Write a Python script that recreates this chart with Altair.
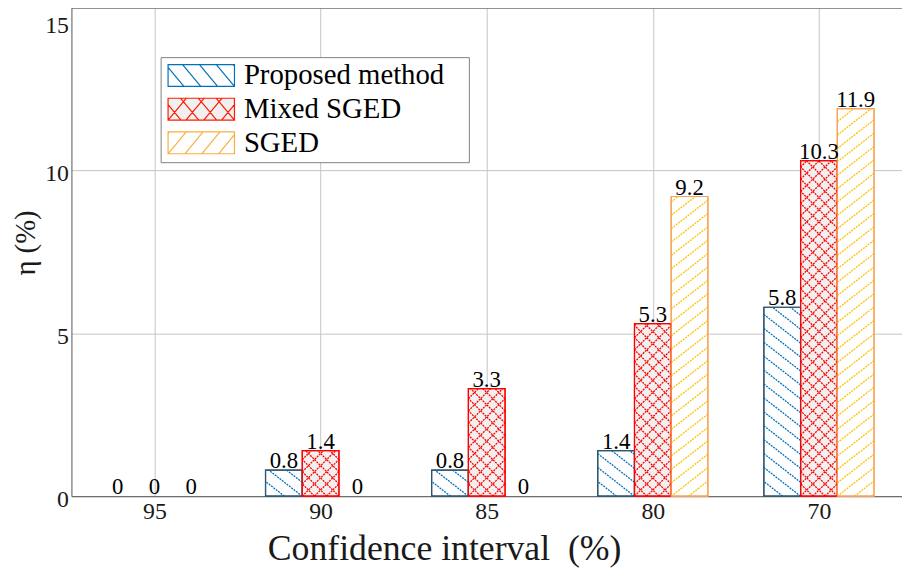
import math
import altair as alt
import pandas as pd

# ---------------- data ----------------
categories = ["95", "90", "85", "80", "70"]
series_names = ["Proposed method", "Mixed SGED", "SGED"]
proposed = [0, 0.8, 0.8, 1.4, 5.8]
mixed_sged = [0, 1.4, 3.3, 5.3, 10.3]
sged = [0, 0, 0, 9.2, 11.9]
y_ticks = [0, 5, 10, 15]

# ---------------- layout / style ----------------
FONT = "'Liberation Serif', 'Times New Roman', Times, serif"
W, H = 838, 493
XMIN, XMAX = 0.5, 5.5
YMAX = 15
SX = W / (XMAX - XMIN)
SY = H / YMAX
OFFS = [-0.221, 0.0, 0.221]
HW = 0.1105

style = {
    "Proposed method": dict(fill="white", edge="#2B5570", hatch="#0072BD", k=0.78, gap=18.0, dirs=[-1],
                            lfill="white", lstroke="#0072BD", lk=1.2, lgap=17.0),
    "Mixed SGED": dict(fill="#F0F0F0", edge="#FF0000", hatch="#FF0000", k=1.0, gap=12.3, dirs=[1, -1],
                       lfill="#F0F0F0", lstroke="#FF1A00", lk=1.2, lgap=18.0),
    "SGED": dict(fill="white", edge="#F7A35C", hatch="#FFC000", k=0.78, gap=17.3, dirs=[1],
                 lfill="white", lstroke="#F9B040", lk=1.2, lgap=17.0),
}


def seg_lines(w, h, k, gap, direction):
    """hatch segments inside a w x h (px) box, y up, lines of slope k"""
    segs = []
    step = k * gap
    n0 = math.ceil(-k * w / step)
    n1 = math.floor(h / step)
    for n in range(n0, n1 + 1):
        c = n * step
        xa = max(0.0, -c / k)
        xb = min(w, (h - c) / k)
        if xb - xa > 0.3:
            ya, yb = k * xa + c, k * xb + c
            if direction < 0:
                xa, xb = w - xa, w - xb
            segs.append((xa, ya, xb, yb))
    return segs


rows = []
for si, (name, vals) in enumerate(zip(series_names, [proposed, mixed_sged, sged])):
    for ci, (cat, v) in enumerate(zip(categories, vals)):
        c = ci + 1 + OFFS[si]
        rows.append(dict(series=name, cat=cat, value=v, xc=c, x0=c - HW, x1=c + HW, label=f"{v:g}"))
bars = pd.DataFrame(rows)

hrows = []
for r in rows:
    if r["value"] <= 0:
        continue
    st = style[r["series"]]
    w = (r["x1"] - r["x0"]) * SX
    h = r["value"] * SY
    for d in st["dirs"]:
        for xa, ya, xb, yb in seg_lines(w, h, st["k"], st["gap"], d):
            hrows.append(dict(series=r["series"], hx=r["x0"] + xa / SX, hx2=r["x0"] + xb / SX,
                              hy=ya / SY, hy2=yb / SY))
hatch = pd.DataFrame(hrows)


def swatch_path(k, gap, dirs, wpx=67.0, hpx=22.0, rr=11.0, shift=0.0, reach=26.0):
    x0 = -1 + shift / rr
    parts = [f"M{x0:.3f},-1H{x0 + wpx / rr:.3f}V1H{x0:.3f}Z"]
    for d in dirs:
        for xa, ya, xb, yb in seg_lines(wpx, hpx, k, gap, d):
            parts.append(f"M{x0 + xa / rr:.3f},{(hpx - ya) / rr - 1:.3f}L{x0 + xb / rr:.3f},{(hpx - yb) / rr - 1:.3f}")
    # invisible move-to that widens the legend frame
    parts.append(f"M{reach:.2f},0")
    return "".join(parts)


paths = [swatch_path(style[s]["lk"], style[s]["lgap"], style[s]["dirs"]) for s in series_names]

xscale = alt.Scale(domain=[XMIN, XMAX], nice=False, zero=False)
yscale = alt.Scale(domain=[0, YMAX], nice=False, zero=False)

label_arr = "[" + ",".join(f"'{c}'" for c in categories) + "]"
x_axis = alt.Axis(
    values=list(range(1, len(categories) + 1)), labelExpr=f"{label_arr}[datum.value - 1]",
    grid=True, gridColor="#C4C4C4", gridWidth=1, domain=True, domainColor="#555555", domainWidth=1,
    ticks=False, tickSize=0, labelFont=FONT, labelFontSize=24, labelColor="#1a1a1a",
    labelBaseline="alphabetic", labelPadding=23, labelAngle=0,
    title="Confidence interval\u00a0 (%)", titleFont=FONT, titleFontSize=36, titleFontWeight="normal",
    titleColor="#1a1a1a", titleX=376, titleY=64, titleBaseline="alphabetic", titleAlign="center",
)
y_axis = alt.Axis(
    values=y_ticks, grid=True, gridColor="#C4C4C4", gridWidth=1, domain=True, domainColor="#555555",
    domainWidth=1, ticks=False, tickSize=0, labelFont=FONT, labelFontSize=24, labelColor="#1a1a1a",
    labelPadding=3, labelBaseline="middle",
    labelOffset={"condition": {"test": f"datum.value == {YMAX}", "value": 18}, "value": 3},
    title="η (%)", titleFont=FONT, titleFontSize=29, titleFontWeight="normal", titleColor="#1a1a1a",
    titleX=-46, titleY=237, titleAngle=270, titleBaseline="middle", titleAlign="center",
)
top_axis = alt.Axis(orient="top", labels=False, ticks=False, grid=False, domain=True,
                    domainColor="#555555", domainWidth=1, title=None)

layers = []
for i, name in enumerate(series_names):
    st = style[name]
    layers.append(
        alt.Chart(bars).transform_filter((alt.datum.series == name) & (alt.datum.value > 0))
        .mark_rect(fill=st["fill"], stroke=st["edge"], strokeWidth=1.2)
        .encode(
            x=alt.X("x0:Q", scale=xscale, axis=x_axis if i == 0 else None),
            x2="x1:Q",
            y=alt.Y("value:Q", scale=yscale, axis=y_axis),
            y2=alt.Y2Datum(0),
        )
    )
for name in series_names:
    st = style[name]
    layers.append(
        alt.Chart(hatch).transform_filter(alt.datum.series == name)
        .mark_rule(stroke=st["hatch"], strokeWidth=1.3, strokeDash=[2, 1])
        .encode(
            x=alt.X("hx:Q", scale=xscale, axis=None), x2="hx2:Q",
            y=alt.Y("hy:Q", scale=yscale, axis=y_axis), y2="hy2:Q",
        )
    )
for name in series_names:
    st = style[name]
    layers.append(
        alt.Chart(bars).transform_filter((alt.datum.series == name) & (alt.datum.value > 0))
        .mark_rect(fillOpacity=0, stroke=st["edge"], strokeWidth=1.2)
        .encode(
            x=alt.X("x0:Q", scale=xscale, axis=None), x2="x1:Q",
            y=alt.Y("value:Q", scale=yscale, axis=y_axis), y2=alt.Y2Datum(0),
        )
    )

layers.append(
    alt.Chart(bars).mark_text(font=FONT, fontSize=23, baseline="alphabetic", dy=-2, color="black")
    .encode(
        x=alt.X("xc:Q", scale=xscale, axis=None),
        y=alt.Y("value:Q", scale=yscale, axis=y_axis),
        text="label:N",
    )
)

leg = alt.Legend(
    title=None, orient="none", legendX=90, legendY=50, padding=4, strokeColor="#808080",
    fillColor="white", cornerRadius=0, labelFont=FONT, labelFontSize=29, labelColor="black",
    labelLimit=600, symbolSize=484, symbolStrokeWidth=1.2, symbolOpacity=1, labelOffset=51,
    rowPadding=4,
)
layers.append(
    alt.Chart(bars).mark_point(opacity=0, filled=True)
    .encode(
        x=alt.X("xc:Q", scale=xscale, axis=top_axis),
        y=alt.Y("value:Q", scale=yscale, axis=y_axis),
        shape=alt.Shape("series:N", scale=alt.Scale(domain=series_names, range=paths), legend=leg),
        fill=alt.Fill("series:N", scale=alt.Scale(domain=series_names,
                                                  range=[style[s]["lfill"] for s in series_names]), legend=leg),
        stroke=alt.Stroke("series:N", scale=alt.Scale(domain=series_names,
                                                      range=[style[s]["lstroke"] for s in series_names]), legend=leg),
    )
)

chart = (
    alt.layer(*layers)
    .resolve_axis(x="independent")
    .properties(
        width=W, height=H,
        padding={"left": 64, "top": -3, "right": 0, "bottom": 85},
        autosize=alt.AutoSizeParams(type="none"),
        background="white",
    )
    .configure_view(stroke=None)
)

chart.save("out.html", embed_options={"renderer": "svg", "actions": False})
